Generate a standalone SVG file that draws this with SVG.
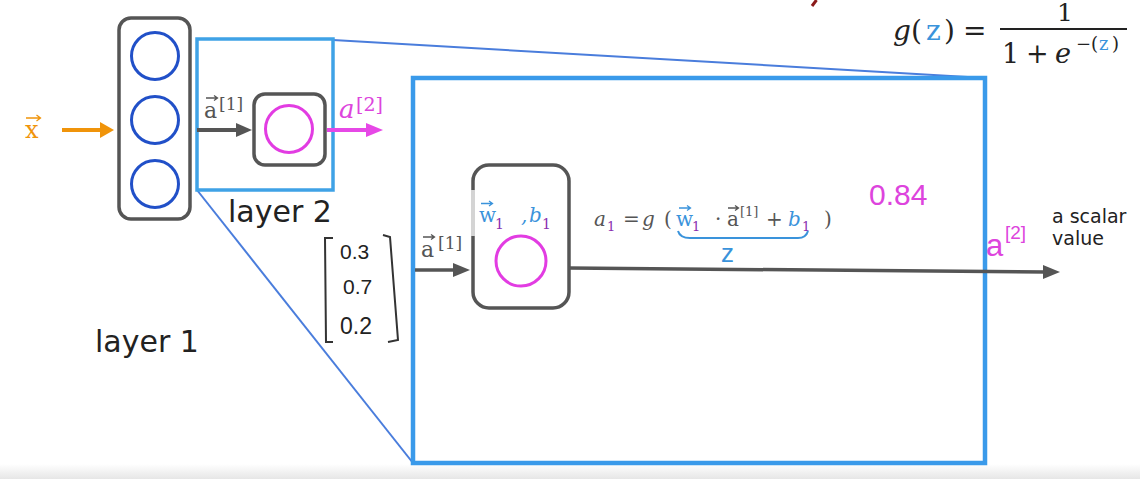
<svg xmlns="http://www.w3.org/2000/svg" width="1140" height="479" viewBox="0 0 1140 479">
<defs>
<linearGradient id="floor" x1="0" y1="0" x2="0" y2="1"><stop offset="0" stop-color="#ffffff"/><stop offset="1" stop-color="#e6e6e6"/></linearGradient>
<style>
.node{fill:none;stroke:#555;stroke-width:3.5}
.l1c{fill:none;stroke:#2150c8;stroke-width:3}
.mag{fill:none;stroke:#e23ce2;stroke-width:3}
.cyan{fill:none;stroke:#3fa2e6;stroke-width:3.5}
.big{fill:none;stroke:#3a9aea;stroke-width:4.5}
.thin{fill:none;stroke:#4a7ddc;stroke-width:2}
.m{font-family:"DejaVu Serif","Liberation Serif",serif}
.s{font-family:"DejaVu Sans","Liberation Sans",sans-serif}
.h{font-family:"Liberation Sans","DejaVu Sans",sans-serif}
.g{fill:#555}
.k{fill:#222}
.bl{fill:#3a93db}
.pu{fill:#8a2fb0}
.mg{fill:#dd44dd}
.vec{fill:none;stroke-width:1.3}
</style>
</defs>
<rect x="0" y="0" width="1140" height="479" fill="#ffffff"/>
<rect x="0" y="464" width="1140" height="15" fill="url(#floor)"/>
<path d="M812,6 L816.5,0" stroke="#8b1a1a" stroke-width="3"/>

<g id="zoom-lines">
<line class="thin" x1="333" y1="40" x2="985" y2="78"/>
<line class="thin" x1="197" y1="190" x2="413" y2="463"/>
</g>

<g id="layer1">
<rect class="node" x="119" y="18" width="71" height="201" rx="12"/>
<circle class="l1c" cx="155" cy="56" r="23.5"/>
<circle class="l1c" cx="155" cy="120" r="23.5"/>
<circle class="l1c" cx="155" cy="184" r="23.5"/>
<text class="s k" x="95" y="352" font-size="30">layer 1</text>
</g>

<g id="layer2">
<rect class="cyan" x="197" y="39" width="136" height="151"/>
<rect class="node" x="254" y="94" width="71" height="71" rx="11"/>
<circle class="mag" cx="289" cy="129" r="23.5"/>
<text class="s k" x="228" y="222" font-size="30">layer 2</text>
</g>

<g id="detail">
<rect class="big" x="413" y="78" width="572" height="385"/>
<rect class="node" x="473" y="165" width="96" height="143" rx="16"/>
<line x1="473" y1="190" x2="473" y2="236" stroke="#d4d4d4" stroke-width="4"/>
<circle class="mag" cx="521" cy="261" r="25"/>
<text class="m bl" x="479" y="222" font-size="20">w</text>
<path class="vec" stroke="#3a93db" d="M481,203.5 H492 M489,201 L492.5,203.5 L489,206"/>
<text class="m pu" x="495" y="229" font-size="14">1</text>
<text class="m bl" x="521" y="222" font-size="20" font-style="italic">,</text>
<text class="m bl" x="529" y="222" font-size="20" font-style="italic">b</text>
<text class="m pu" x="542" y="229" font-size="14">1</text>
</g>

<g id="matrix">
<path d="M333,238 L325,238 L326,342 L333,342" fill="none" stroke="#333" stroke-width="2"/>
<path d="M383,235 L390,237 L398,340 L388,342" fill="none" stroke="#333" stroke-width="2"/>
<text class="h k" x="340" y="259" font-size="21">0.3</text>
<text class="h k" x="343" y="294" font-size="21">0.7</text>
<text class="h k" x="340" y="334" font-size="23">0.2</text>
</g>

<g id="connectors">
<line x1="62" y1="130" x2="102" y2="130" stroke="#f0940a" stroke-width="4"/>
<polygon points="100,122 114,130 100,138" fill="#f0940a"/>
<line x1="197" y1="130" x2="238" y2="130" stroke="#555" stroke-width="4"/>
<polygon points="236,123 252,130 236,137" fill="#555"/>
<line x1="327" y1="130" x2="368" y2="130" stroke="#e648e6" stroke-width="4"/>
<polygon points="366,123 383,130 366,137" fill="#e648e6"/>
<line x1="415" y1="270" x2="455" y2="270" stroke="#555" stroke-width="3.5"/>
<polygon points="453,263 470,270 453,277" fill="#555"/>
<line x1="569" y1="268" x2="1045" y2="272" stroke="#555" stroke-width="3.5"/>
<polygon points="1043,265 1060,272 1043,279" fill="#555"/>
</g>

<g id="labels">
<text class="m" x="25" y="138" font-size="24" fill="#f0940a">x</text>
<path class="vec" stroke="#f0940a" stroke-width="1.6" d="M26,118 H40 M36.5,115 L40.5,118 L36.5,121"/>

<text class="m g" x="204" y="118" font-size="22">a</text>
<path class="vec" stroke="#555" d="M206,98 H217 M214,95.5 L217.5,98 L214,100.5"/>
<text class="m g" x="219" y="110" font-size="17">[1]</text>

<text class="m mg" x="339" y="118" font-size="26" font-style="italic">a</text>
<text class="m mg" x="356" y="111" font-size="19">[2]</text>

<text class="m g" x="421" y="257" font-size="22">a</text>
<path class="vec" stroke="#555" d="M423,237 H434 M431,234.5 L434.5,237 L431,239.5"/>
<text class="m g" x="438" y="249" font-size="17">[1]</text>

<text class="m g" x="594" y="226" font-size="20" font-style="italic">a</text>
<text class="m pu" x="607" y="231" font-size="13">1</text>
<text class="m g" x="623" y="226" font-size="20">=</text>
<text class="m g" x="642" y="226" font-size="20" font-style="italic">g</text>
<text class="m g" x="664" y="226" font-size="20">(</text>
<text class="m bl" x="676" y="226" font-size="20">w</text>
<path class="vec" stroke="#3a93db" d="M679,208 H690 M687,205.5 L690.5,208 L687,210.5"/>
<text class="m pu" x="692" y="231" font-size="13">1</text>
<text class="m g" x="715" y="226" font-size="20">·</text>
<text class="m g" x="727" y="226" font-size="20">a</text>
<path class="vec" stroke="#555" d="M728,208 H738 M735,205.5 L738.5,208 L735,210.5"/>
<text class="m g" x="740" y="216" font-size="13">[1]</text>
<text class="m g" x="766" y="226" font-size="20">+</text>
<text class="m bl" x="788" y="226" font-size="20" font-style="italic">b</text>
<text class="m pu" x="802" y="231" font-size="13">1</text>
<text class="m g" x="824" y="226" font-size="20">)</text>
<path d="M678,231 Q680,238 690,238 L798,238 Q806,238 808,231" fill="none" stroke="#3a93db" stroke-width="2"/>
<text class="h" x="721" y="262" font-size="26" fill="#3a93db">z</text>

<text class="h mg" x="869" y="205" font-size="30">0.84</text>
<text class="h mg" x="986" y="256" font-size="31">a</text>
<text class="h mg" x="1005" y="239" font-size="19">[2]</text>
<text class="s k" x="1052" y="223" font-size="19">a scalar</text>
<text class="s k" x="1052" y="245" font-size="19">value</text>

<text class="m k" x="893" y="40" font-size="28" font-style="italic">g</text>
<text class="m k" x="911" y="40" font-size="28">(</text>
<text class="m bl" x="926" y="40" font-size="28">z</text>
<text class="m k" x="944" y="40" font-size="28">)</text>
<text class="m k" x="963" y="40" font-size="28">=</text>
<text class="m k" x="1057" y="21" font-size="25">1</text>
<line x1="1000" y1="29" x2="1127" y2="29" stroke="#222" stroke-width="2"/>
<text class="m k" x="1002" y="63" font-size="27">1</text>
<text class="m k" x="1026" y="63" font-size="27">+</text>
<text class="m k" x="1055" y="63" font-size="27" font-style="italic">e</text>
<text class="m k" x="1076" y="50" font-size="18">−(</text>
<text class="m bl" x="1099" y="50" font-size="18">z</text>
<text class="m k" x="1112" y="50" font-size="18">)</text>
</g>
</svg>
